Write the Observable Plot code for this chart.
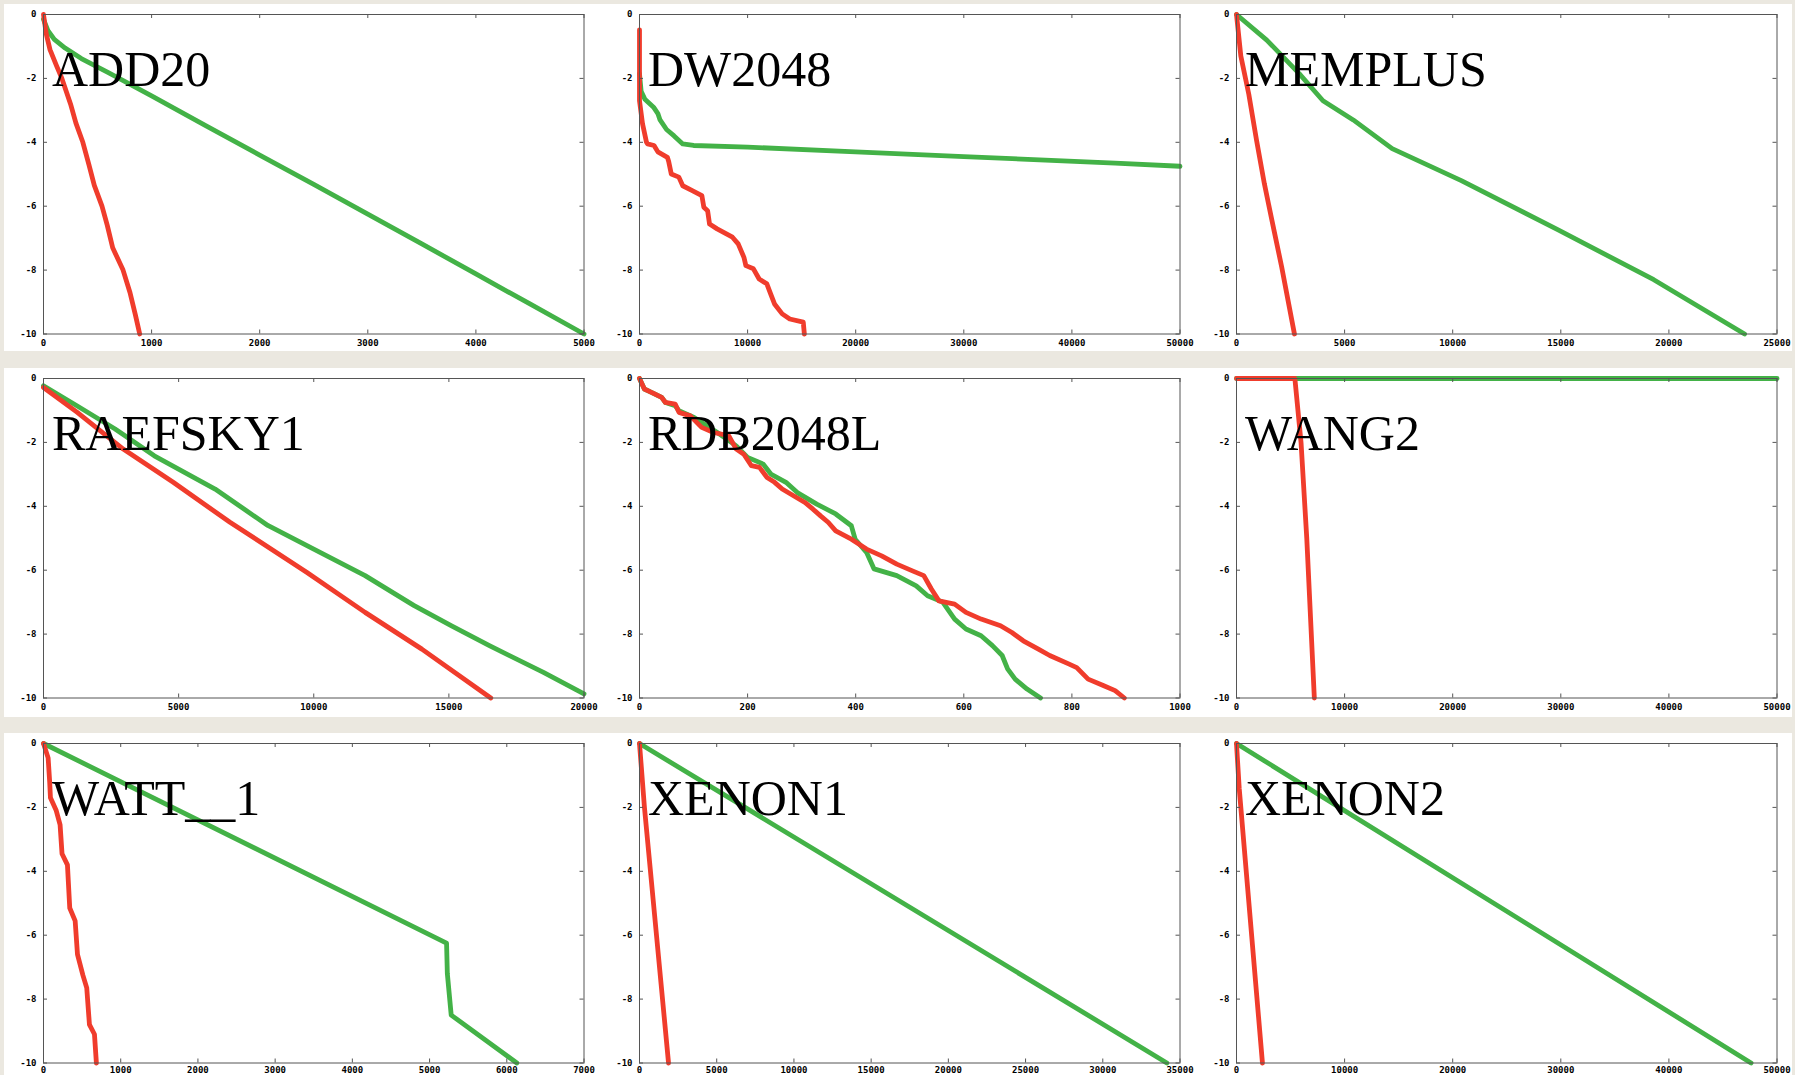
<!DOCTYPE html>
<html><head><meta charset="utf-8">
<script src="https://cdn.jsdelivr.net/npm/d3@7"></script>
<script src="https://cdn.jsdelivr.net/npm/@observablehq/plot@0.6"></script>
<style>
html,body{margin:0;padding:0;background:#ebe8e0;overflow:hidden;}
#wrap{position:relative;width:1795px;height:1075px;overflow:hidden;background:#ebe8e0;}
.strip{position:absolute;left:4px;width:1788px;background:#fff;}
.panel{position:absolute;}
.panel svg{overflow:visible;max-width:none !important;height:auto;}
</style></head><body>
<div id="wrap">
<div class="strip" style="top:4px;height:347px"></div>
<div class="strip" style="top:368px;height:349px"></div>
<div class="strip" style="top:733px;height:342px"></div>
</div>
<script>
// ---- data (x = step, y = log10 residual) ----
const titles = ["ADD20","DW2048","MEMPLUS","RAEFSKY1","RDB2048L","WANG2","WATT__1","XENON1","XENON2"];
const xMax  = [5000, 50000, 25000, 20000, 1000, 50000, 7000, 35000, 50000];
const xStep = [1000, 10000, 5000, 5000, 200, 10000, 1000, 5000, 10000];
const yTicks = [0, -2, -4, -6, -8, -10];

const add20Green = [[0,-0.15],[40,-0.5],[100,-0.78],[200,-1.05],[350,-1.38],[600,-1.82],[1000,-2.55],[1500,-3.48],[2000,-4.4],[2500,-5.32],[3000,-6.25],[3500,-7.18],[4000,-8.12],[4500,-9.06],[5000,-10]];
const add20Red = [[0,0],[25,-0.6],[60,-1.1],[120,-1.6],[170,-2.0],[250,-2.8],[300,-3.4],[364,-4.0],[420,-4.7],[470,-5.35],[541,-6.0],[590,-6.6],[640,-7.3],[736,-8.0],[800,-8.7],[850,-9.4],[890,-10]];

const dw2048Green = [[0,-1.85],[150,-2.4],[500,-2.65],[1300,-2.9],[1700,-3.1],[1900,-3.3],[2500,-3.6],[3200,-3.8],[4000,-4.05],[5000,-4.1],[10000,-4.15],[20000,-4.3],[30000,-4.45],[37000,-4.55],[44000,-4.65],[50000,-4.75]];
const dw2048Red = [[0,-0.48],[0,-2.7],[280,-3.42],[640,-3.99],[740,-4.05],[1345,-4.1],[1700,-4.3],[2580,-4.47],[2700,-4.6],[2940,-4.99],[3640,-5.09],[4000,-5.36],[4880,-5.51],[5770,-5.67],[5950,-6.03],[6300,-6.14],[6480,-6.56],[7180,-6.71],[8600,-6.97],[9130,-7.18],[9660,-7.6],[9840,-7.86],[10540,-7.96],[11070,-8.28],[11780,-8.43],[12140,-8.75],[12490,-9.06],[13200,-9.37],[13900,-9.53],[15150,-9.63],[15250,-10]];

const memplusGreen = [[0,0],[1400,-0.8],[2900,-1.85],[4000,-2.7],[5400,-3.3],[7200,-4.2],[10400,-5.2],[14900,-6.75],[19300,-8.3],[23500,-10]];
const memplusRed = [[0,0],[200,-1.3],[570,-2.5],[930,-3.95],[1290,-5.3],[1640,-6.45],[2090,-7.9],[2680,-10]];

const raefskyGreen = [[0,-0.23],[1250,-0.86],[2650,-1.58],[4100,-2.42],[6350,-3.46],[8300,-4.6],[10000,-5.34],[11900,-6.17],[13700,-7.1],[15100,-7.74],[16500,-8.36],[18500,-9.2],[20000,-9.87]];
const raefskyRed = [[0,-0.28],[1250,-1.06],[2950,-2.21],[4800,-3.25],[6900,-4.5],[9750,-6.07],[11900,-7.32],[14000,-8.47],[16550,-10]];

const rdbGreen = [[0,0],[9,-0.33],[23,-0.44],[41,-0.59],[48,-0.75],[66,-0.85],[73,-1.01],[101,-1.22],[144,-1.69],[179,-2.11],[200,-2.47],[229,-2.68],[243,-2.99],[271,-3.25],[292,-3.57],[328,-3.93],[363,-4.24],[392,-4.61],[399,-5.03],[420,-5.44],[434,-5.96],[476,-6.17],[512,-6.49],[533,-6.8],[561,-7.0],[583,-7.53],[604,-7.84],[632,-8.05],[653,-8.36],[671,-8.67],[681,-9.09],[695,-9.41],[717,-9.72],[742,-10]];
const rdbRed = [[0,0],[9,-0.33],[23,-0.44],[41,-0.59],[48,-0.75],[66,-0.8],[73,-1.06],[94,-1.17],[115,-1.53],[137,-1.69],[165,-1.79],[179,-2.21],[193,-2.37],[207,-2.73],[222,-2.78],[236,-3.1],[250,-3.25],[264,-3.46],[285,-3.67],[306,-3.88],[321,-4.09],[335,-4.3],[349,-4.5],[363,-4.77],[392,-5.03],[420,-5.34],[448,-5.55],[476,-5.81],[505,-6.02],[526,-6.17],[540,-6.59],[554,-6.96],[583,-7.06],[604,-7.32],[632,-7.53],[668,-7.74],[689,-7.95],[710,-8.21],[738,-8.47],[759,-8.67],[795,-8.94],[809,-9.05],[830,-9.41],[858,-9.61],[880,-9.77],[897,-10]];

const wang2Green = [[0,0],[50000,0]];
const wang2Red = [[0,0],[5400,0],[5970,-2.0],[6500,-5.0],[7200,-10]];

const wattGreen = [[0,0],[5220,-6.25],[5230,-7.2],[5280,-8.5],[6130,-10]];
const wattRed = [[0,0],[60,-0.45],[80,-1.2],[90,-1.7],[165,-2.1],[215,-2.55],[240,-3.45],[310,-3.8],[340,-5.15],[410,-5.55],[440,-6.6],[510,-7.25],[560,-7.65],[595,-8.8],[660,-9.1],[685,-10]];

const xenon1Green = [[0,0],[34150,-10]];
const xenon1Red = [[0,0],[320,-2.0],[1880,-10]];

const xenon2Green = [[0,0],[47600,-10]];
const xenon2Red = [[0,0],[250,-1.4],[2400,-10]];

const greens = [add20Green, dw2048Green, memplusGreen, raefskyGreen, rdbGreen, wang2Green, wattGreen, xenon1Green, xenon2Green];
const reds   = [add20Red, dw2048Red, memplusRed, raefskyRed, rdbRed, wang2Red, wattRed, xenon1Red, xenon2Red];

// ---- layout ----
const GREEN = "#43b247", RED = "#f03c2c", FRAME = "#555";
const frameLefts = [42.5, 638.6, 1235.5];
const frameTops = [14, 377.7, 742.7];
const xLabelPad = [6, 6, 3.5];
const frameW = 540.5, frameH = 319.5;
const mL = 40, mR = 18, mT = 12, mB = 20;
const tickLen = 4;
const tickFont = {fontFamily: "DejaVu Sans Mono", fontSize: 9, fontWeight: "bold", letterSpacing: "1.3px"};

const wrap = document.getElementById("wrap");
titles.forEach((title, i) => {
  const col = i % 3, row = Math.floor(i / 3);
  const xt = d3.range(0, xMax[i] + 1, xStep[i]);
  const W = frameW + mL + mR, H = frameH + mT + mB;
  const chart = Plot.plot({
    width: W, height: H,
    marginLeft: mL, marginRight: mR, marginTop: mT, marginBottom: mB,
    style: {background: "transparent", overflow: "visible", maxWidth: "none"},
    x: {domain: [0, xMax[i]]},
    y: {domain: [-10, 0]},
    marks: [
      Plot.line(greens[i], {x: d => d[0], y: d => d[1], stroke: GREEN, strokeWidth: 4.8}),
      Plot.line(reds[i], {x: d => d[0], y: d => d[1], stroke: RED, strokeWidth: 4.8}),
      Plot.frame({stroke: FRAME, strokeWidth: 1}),
      Plot.tickX(xt, {x: d => d, insetTop: frameH - tickLen, stroke: FRAME}),
      Plot.tickX(xt, {x: d => d, insetBottom: frameH - tickLen, stroke: FRAME}),
      Plot.tickY(yTicks, {y: d => d, insetRight: frameW - tickLen, stroke: FRAME}),
      Plot.tickY(yTicks, {y: d => d, insetLeft: frameW - tickLen, stroke: FRAME}),
      Plot.axisX(xt, {tickSize: 0, tickPadding: xLabelPad[row], tickFormat: d => String(d), fill: "#000", ...tickFont}),
      Plot.axisY(yTicks, {tickSize: 0, tickPadding: 7, tickFormat: d => String(d), fill: "#000", ...tickFont}),
      Plot.text([title], {text: d => d, frameAnchor: "top-left", dx: 8.5, dy: 71.5, lineAnchor: "bottom", textAnchor: "start", fontFamily: "Liberation Serif", fontSize: 50, fill: "#000"})
    ]
  });
  const div = document.createElement("div");
  div.className = "panel";
  div.style.left = (frameLefts[col] - mL) + "px";
  div.style.top = (frameTops[row] - mT) + "px";
  div.style.width = W + "px";
  div.style.height = H + "px";
  chart.setAttribute("width", W);
  chart.setAttribute("height", H);
  chart.style.width = W + "px";
  chart.style.height = H + "px";
  div.appendChild(chart);
  wrap.appendChild(div);
});
</script>
</body></html>
